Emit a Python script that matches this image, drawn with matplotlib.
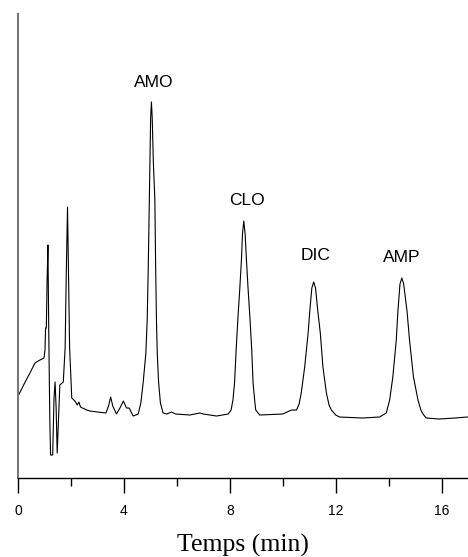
import matplotlib
matplotlib.use('Agg')
from matplotlib import pyplot as plt
import numpy as np

# chromatogram trace (time in min, signal in arbitrary units)
time_min = [0.00, 0.08, 0.25, 0.45, 0.64, 0.83, 0.98, 1.02, 1.04, 1.07,
            1.10, 1.13, 1.16, 1.20, 1.23, 1.31, 1.36, 1.40, 1.44, 1.48,
            1.53, 1.58, 1.71, 1.78, 1.82, 1.87, 1.91, 1.95, 2.03, 2.15,
            2.24, 2.30, 2.36, 2.59, 2.72, 3.00, 3.32, 3.42, 3.50, 3.58,
            3.72, 3.85, 3.98, 4.10, 4.20, 4.35, 4.45, 4.54, 4.64, 4.73,
            4.83, 4.88, 4.92, 4.96, 4.98, 5.01, 5.04, 5.07, 5.11, 5.17,
            5.20, 5.23, 5.26, 5.31, 5.38, 5.48, 5.62, 5.80, 5.95, 6.49,
            6.87, 7.00, 7.50, 7.94, 8.05, 8.12, 8.18, 8.24, 8.31, 8.38,
            8.44, 8.48, 8.53, 8.58, 8.63, 8.69, 8.76, 8.83, 8.88, 8.94,
            8.98, 9.13, 10.00, 10.33, 10.52, 10.62, 10.70, 10.83, 10.96, 11.02,
            11.10, 11.17, 11.24, 11.33, 11.42, 11.52, 11.65, 11.75, 11.84, 12.00,
            12.15, 13.00, 13.66, 13.91, 14.04, 14.16, 14.29, 14.35, 14.43, 14.50,
            14.57, 14.70, 14.79, 14.94, 15.11, 15.22, 15.30, 15.42, 15.92, 16.50,
            16.98]
signal = [82, 86, 95, 105, 115, 118, 120, 128, 150, 150,
          200, 233, 150, 60, 23, 23, 80, 96, 70, 25,
          60, 93, 96, 130, 200, 271, 200, 130, 80, 77,
          73, 76, 71, 68, 67, 66, 65, 72, 81, 72,
          64, 70, 77, 70, 70, 62, 63, 64, 75, 96,
          125, 158, 210, 278, 318, 360, 376, 360, 318, 278,
          210, 158, 125, 96, 75, 65, 64, 66, 64, 63,
          65, 64, 62, 64, 68, 78, 95, 128, 161, 190,
          218, 244, 257, 244, 218, 190, 161, 128, 95, 78,
          68, 63, 64, 68, 68, 74, 85, 111, 145, 166,
          190, 196, 190, 166, 145, 111, 85, 73, 68, 63,
          61, 60, 61, 65, 78, 101, 138, 166, 194, 200,
          194, 166, 138, 101, 78, 68, 64, 60, 59, 60,
          61]

peak_names = ['AMO', 'CLO', 'DIC', 'AMP']
peak_times = [5.04, 8.53, 11.17, 14.50]

fig = plt.figure(figsize=(4.68, 5.57), dpi=100, facecolor='w')
ax = fig.add_axes([0.0385, 0.1418, 0.9615, 0.8331])

ax.plot(time_min, signal, color='black', linewidth=0.8)

t = np.array(time_min)
s = np.array(signal)
label_offsets = [(2, 14), (2, 15), (1, 19), (0, 15)]
for name, pt, off in zip(peak_names, peak_times, label_offsets):
    top = s[np.argmin(np.abs(t - pt))]
    ax.annotate(name, xy=(pt, top), xytext=off, textcoords='offset points',
                ha='center', va='center', fontsize=12.5, family='Liberation Sans')

ax.set_xlim(0, 17)
ax.set_ylim(0, 464)
ax.set_xticks([0, 4, 8, 12, 16])
ax.set_xticks([2, 6, 10, 14], minor=True)
ax.set_yticks([])
ax.tick_params(axis='x', which='major', direction='out', length=11, width=1,
               pad=8, labelsize=10, labelfontfamily='Liberation Sans')
ax.tick_params(axis='x', which='minor', direction='out', length=6, width=1)

ax.spines['top'].set_visible(False)
ax.spines['right'].set_visible(False)
ax.spines['left'].set_color('#777777')
ax.spines['left'].set_linewidth(1.5)
ax.spines['bottom'].set_linewidth(1)

ax.set_xlabel("Temps (min)", fontsize=18.5, family='Liberation Serif', labelpad=11)

fig.savefig('out.png', dpi=100, facecolor='w')
